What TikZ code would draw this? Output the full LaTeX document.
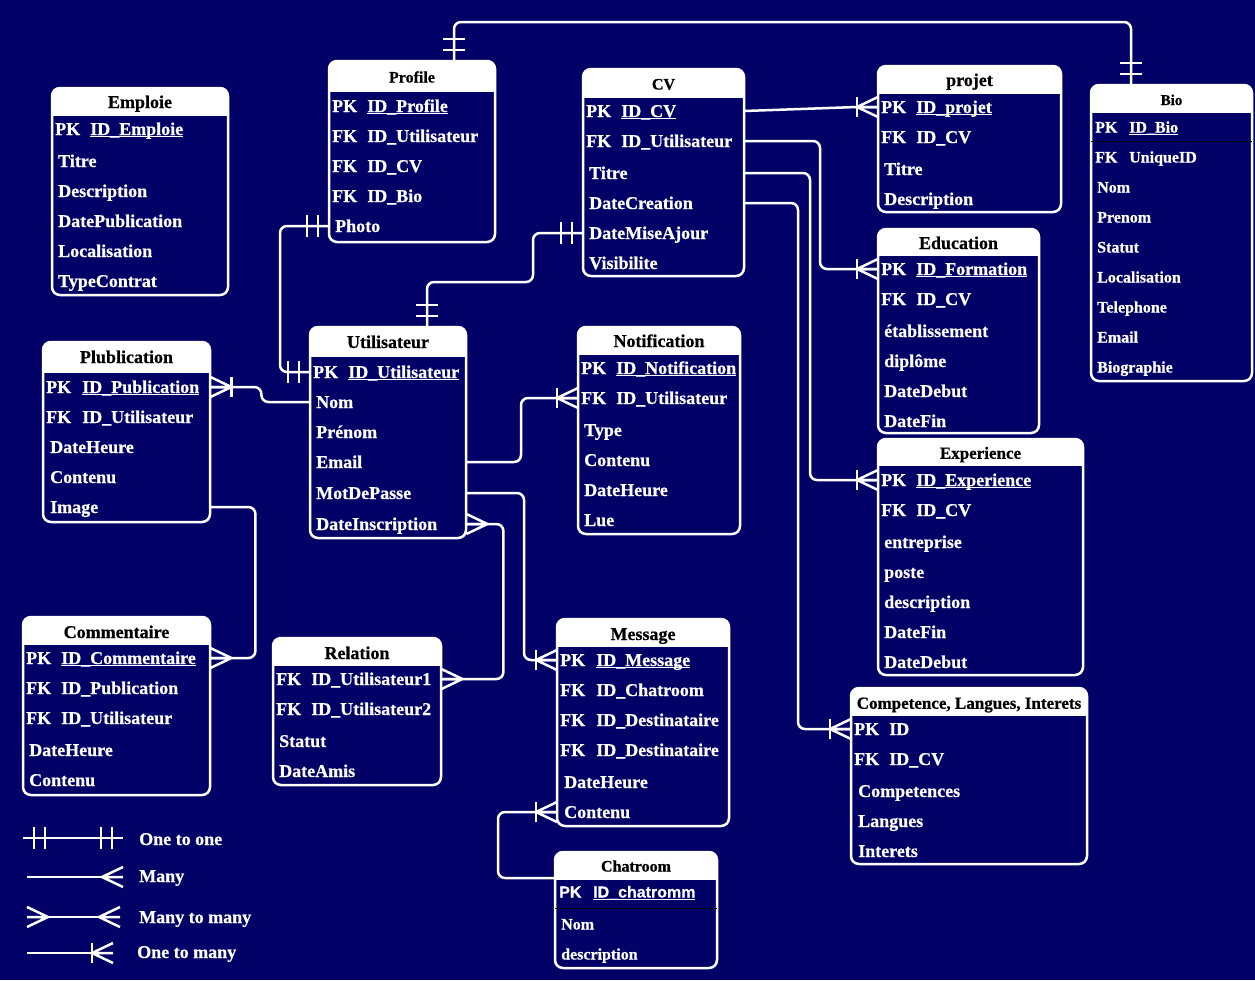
\documentclass[tikz,border=0pt]{standalone}
\usepackage{fontspec}
\setmainfont{Liberation Serif}[BoldFeatures={FakeBold=0.7}]
\newfontfamily\sansb{Liberation Sans}[BoldFeatures={FakeBold=0.7}]
\definecolor{erbg}{RGB}{0,0,102}
\newcommand\pkul[1]{\setbox0\hbox{#1}\rlap{\rule[-2.3pt]{\wd0}{1.3pt}}\box0}
\newcommand\ertable[6]{%
  \node[tblbody, anchor=north west, minimum width={(#4-#2)*1pt}, minimum height={(#5-#3)*1pt}] (#1) at (#2,#3) {};
  \begin{scope}
    \clip[rounded corners=8pt] (#2,#3) rectangle (#4,#5);
    \fill[white] (#2,#3) rectangle (#4,#6);
  \end{scope}
  \draw[tblline] (#2,#3) rectangle (#4,#5);
}
\newcommand\crow[3]{%
  \begin{scope}[shift={(#1)}, rotate=#2]
    \draw[mk] (21,0) -- (0,10) (21,0) -- (0,-10) (21,0) -- (0,0);
    \ifnum#3=1 \draw[mk] (21,10) -- (21,-10);\fi
  \end{scope}}
\newcommand\onebar[2]{%
  \begin{scope}[shift={(#1)}, rotate=#2]
    \draw[mk] (11,11) -- (11,-11) (22,11) -- (22,-11);
  \end{scope}}
\tikzset{
  conn/.style={draw=white, line width=2.5pt, rounded corners=7pt},
  mk/.style={draw=white, line width=2.5pt},
  tblbody/.style={fill=erbg, draw=none, inner sep=0pt, rounded corners=8pt},
  tblline/.style={draw=white, line width=2.5pt, rounded corners=8pt},
  fld/.style={anchor=west, inner sep=0pt, text=white, font=\bfseries\fontsize{18}{20}\selectfont, text height=12pt, text depth=0pt},
  fldb/.style={fld, font=\bfseries\fontsize{16}{18}\selectfont, text height=11pt},
  ttl/.style={inner sep=0pt, text=black, font=\bfseries\fontsize{18}{20}\selectfont, text height=12pt, text depth=0pt},
  ttls/.style={ttl, font=\bfseries\fontsize{16}{18}\selectfont, text height=11pt},
  ttlm/.style={ttl, font=\bfseries\fontsize{17}{19}\selectfont, text height=11.5pt},
}
\begin{document}
\begin{tikzpicture}[x=1pt,y=-1pt]
\useasboundingbox (0,0) rectangle (1255,980);
\fill[erbg] (0,0) rectangle (1255,980);

% ---------- tables ----------
\ertable{emploie}{52}{88}{228}{295}{116}
\node[ttl] (emp-t) at (140,102) {Emploie};
\node[fld] (emp-k1) at (55,129) {PK};
\node[fld] (emp-1) at (90,129) {\pkul{ID\_Emploie}};
\node[fld] (emp-2) at (58,161) {Titre};
\node[fld] (emp-3) at (58,191) {Description};
\node[fld] (emp-4) at (58,221) {DatePublication};
\node[fld] (emp-5) at (58,251) {Localisation};
\node[fld] (emp-6) at (58,281) {TypeContrat};

\ertable{profile}{329}{61}{495}{242}{92}
\node[ttls] (pf-t) at (412,77) {Profile};
\node[fld] (pf-k1) at (332,106) {PK};
\node[fld] (pf-1) at (367,106) {\pkul{ID\_Profile}};
\node[fld] (pf-k2) at (332,136) {FK};
\node[fld] (pf-2) at (367,136) {ID\_Utilisateur};
\node[fld] (pf-k3) at (332,166) {FK};
\node[fld] (pf-3) at (367,166) {ID\_CV};
\node[fld] (pf-k4) at (332,196) {FK};
\node[fld] (pf-4) at (367,196) {ID\_Bio};
\node[fld] (pf-5) at (335,226) {Photo};

\ertable{cv}{583}{69}{744}{276}{98}
\node[ttls] (cv-t) at (663.5,84) {CV};
\node[fld] (cv-k1) at (586,111) {PK};
\node[fld] (cv-1) at (621,111) {\pkul{ID\_CV}};
\node[fld] (cv-k2) at (586,141) {FK};
\node[fld] (cv-2) at (621,141) {ID\_Utilisateur};
\node[fld] (cv-3) at (589,173) {Titre};
\node[fld] (cv-4) at (589,203) {DateCreation};
\node[fld] (cv-5) at (589,233) {DateMiseAjour};
\node[fld] (cv-6) at (589,263) {Visibilite};

\ertable{projet}{878}{66}{1061}{212}{94}
\node[ttl] (pr-t) at (969.5,80) {projet};
\node[fld] (pr-k1) at (881,107) {PK};
\node[fld] (pr-1) at (916,107) {\pkul{ID\_projet}};
\node[fld] (pr-k2) at (881,137) {FK};
\node[fld] (pr-2) at (916,137) {ID\_CV};
\node[fld] (pr-3) at (884,169) {Titre};
\node[fld] (pr-4) at (884,199) {Description};

\ertable{education}{878}{229}{1039}{433}{256}
\node[ttl] (ed-t) at (958.5,243) {Education};
\node[fld] (ed-k1) at (881,269) {PK};
\node[fld] (ed-1) at (916,269) {\pkul{ID\_Formation}};
\node[fld] (ed-k2) at (881,299) {FK};
\node[fld] (ed-2) at (916,299) {ID\_CV};
\node[fld] (ed-3) at (884,331) {établissement};
\node[fld] (ed-4) at (884,361) {diplôme};
\node[fld] (ed-5) at (884,391) {DateDebut};
\node[fld] (ed-6) at (884,421) {DateFin};

\ertable{experience}{878}{439}{1083}{675}{466}
\node[ttlm] (ex-t) at (980.5,453) {Experience};
\node[fld] (ex-k1) at (881,480) {PK};
\node[fld] (ex-1) at (916,480) {\pkul{ID\_Experience}};
\node[fld] (ex-k2) at (881,510) {FK};
\node[fld] (ex-2) at (916,510) {ID\_CV};
\node[fld] (ex-3) at (884,542) {entreprise};
\node[fld] (ex-4) at (884,572) {poste};
\node[fld] (ex-5) at (884,602) {description};
\node[fld] (ex-6) at (884,632) {DateFin};
\node[fld] (ex-7) at (884,662) {DateDebut};

\ertable{competence}{851}{688}{1087}{864}{716}
\node[ttlm] (co-t) at (969,703) {Competence, Langues, Interets};
\node[fld] (co-k1) at (854,729) {PK};
\node[fld] (co-1) at (889,729) {ID};
\node[fld] (co-k2) at (854,759) {FK};
\node[fld] (co-2) at (889,759) {ID\_CV};
\node[fld] (co-3) at (858,791) {Competences};
\node[fld] (co-4) at (858,821) {Langues};
\node[fld] (co-5) at (858,851) {Interets};

\ertable{bio}{1091}{85}{1252}{381}{113}
\node[ttl, font=\bfseries\fontsize{15}{17}\selectfont, text height=10pt] (bio-t) at (1171.5,100) {Bio};
\node[fldb] (bio-k1) at (1095,127) {PK};
\node[fldb] (bio-1) at (1129,127) {\pkul{ID\_Bio}};
\draw[black, line width=1pt] (bio.west |- 0,141) -- (bio.east |- 0,141);
\node[fldb] (bio-k2) at (1095,157) {FK};
\node[fldb] (bio-2) at (1129,157) {UniqueID};
\node[fldb] (bio-3) at (1097,187) {Nom};
\node[fldb] (bio-4) at (1097,217) {Prenom};
\node[fldb] (bio-5) at (1097,247) {Statut};
\node[fldb] (bio-6) at (1097,277) {Localisation};
\node[fldb] (bio-7) at (1097,307) {Telephone};
\node[fldb] (bio-8) at (1097,337) {Email};
\node[fldb] (bio-9) at (1097,367) {Biographie};

\ertable{utilisateur}{310}{327}{466}{538}{357}
\node[ttl] (ut-t) at (388,342) {Utilisateur};
\node[fld] (ut-k1) at (313,372) {PK};
\node[fld] (ut-1) at (348,372) {\pkul{ID\_Utilisateur}};
\node[fld] (ut-2) at (316,402) {Nom};
\node[fld] (ut-3) at (316,432) {Prénom};
\node[fld] (ut-4) at (316,462) {Email};
\node[fld] (ut-5) at (316,493) {MotDePasse};
\node[fld] (ut-6) at (316,524) {DateInscription};

\ertable{notification}{578}{327}{740}{534}{355}
\node[ttl] (no-t) at (659,341) {Notification};
\node[fld] (no-k1) at (581,368) {PK};
\node[fld] (no-1) at (616,368) {\pkul{ID\_Notification}};
\node[fld] (no-k2) at (581,398) {FK};
\node[fld] (no-2) at (616,398) {ID\_Utilisateur};
\node[fld] (no-3) at (584,430) {Type};
\node[fld] (no-4) at (584,460) {Contenu};
\node[fld] (no-5) at (584,490) {DateHeure};
\node[fld] (no-6) at (584,520) {Lue};

\ertable{publication}{43}{342}{210}{522}{373}
\node[ttl] (pb-t) at (126.5,357) {Plublication};
\node[fld] (pb-k1) at (46,387) {PK};
\node[fld] (pb-1) at (82,387) {\pkul{ID\_Publication}};
\node[fld] (pb-k2) at (46,417) {FK};
\node[fld] (pb-2) at (82,417) {ID\_Utilisateur};
\node[fld] (pb-3) at (50,447) {DateHeure};
\node[fld] (pb-4) at (50,477) {Contenu};
\node[fld] (pb-5) at (50,507) {Image};

\ertable{commentaire}{23}{617}{210}{795}{645}
\node[ttl] (cm-t) at (116.5,632) {Commentaire};
\node[fld] (cm-k1) at (26,658) {PK};
\node[fld] (cm-1) at (61,658) {\pkul{ID\_Commentaire}};
\node[fld] (cm-k2) at (26,688) {FK};
\node[fld] (cm-2) at (61,688) {ID\_Publication};
\node[fld] (cm-k3) at (26,718) {FK};
\node[fld] (cm-3) at (61,718) {ID\_Utilisateur};
\node[fld] (cm-4) at (29,750) {DateHeure};
\node[fld] (cm-5) at (29,780) {Contenu};

\ertable{relation}{273}{638}{441}{785}{666}
\node[ttl] (re-t) at (357,653) {Relation};
\node[fld] (re-k1) at (276,679) {FK};
\node[fld] (re-1) at (311,679) {ID\_Utilisateur1};
\node[fld] (re-k2) at (276,709) {FK};
\node[fld] (re-2) at (311,709) {ID\_Utilisateur2};
\node[fld] (re-3) at (279,741) {Statut};
\node[fld] (re-4) at (279,771) {DateAmis};

\ertable{message}{557}{619}{729}{826}{647}
\node[ttl] (me-t) at (643,634) {Message};
\node[fld] (me-k1) at (560,660) {PK};
\node[fld] (me-1) at (596,660) {\pkul{ID\_Message}};
\node[fld] (me-k2) at (560,690) {FK};
\node[fld] (me-2) at (596,690) {ID\_Chatroom};
\node[fld] (me-k3) at (560,720) {FK};
\node[fld] (me-3) at (596,720) {ID\_Destinataire};
\node[fld] (me-k4) at (560,750) {FK};
\node[fld] (me-4) at (596,750) {ID\_Destinataire};
\node[fld] (me-5) at (564,782) {DateHeure};
\node[fld] (me-6) at (564,812) {Contenu};

\ertable{chatroom}{555}{852}{717}{968}{880}
\node[ttls] (ch-t) at (636,866) {Chatroom};
\node[fldb, font=\sansb\bfseries\fontsize{16}{18}\selectfont] (ch-k1) at (559,892) {PK};
\node[fldb, font=\sansb\bfseries\fontsize{16}{18}\selectfont] (ch-1) at (593,892) {\pkul{ID\_chatromm}};
\draw[black, line width=1pt] (chatroom.west |- 0,908) -- (chatroom.east |- 0,908);
\node[fldb] (ch-2) at (561,924) {Nom};
\node[fldb] (ch-3) at (561,954) {description};

% ---------- connectors ----------
\coordinate (topbend) at (0,22);
\coordinate (pf-top) at ([xshift=125pt]profile.north west);
\coordinate (bio-top) at ([xshift=40pt]bio.north west);
\draw[conn] (pf-top) -- (pf-top |- topbend) -- (bio-top |- topbend) -- (bio-top);
\onebar{pf-top}{90}
\onebar{bio-top}{90}

\coordinate (pf-photo) at (profile.west |- pf-5);
\coordinate (ut-pk) at (utilisateur.west |- ut-1);
\draw[conn] (pf-photo) -| ([xshift=-30pt]ut-pk) -- (ut-pk);
\onebar{pf-photo}{180}
\onebar{ut-pk}{180}

\coordinate (cv-maj) at (cv.west |- cv-5);
\coordinate (ut-top) at ([xshift=117pt]utilisateur.north west);
\draw[conn] (cv-maj) -| ([xshift=106pt,yshift=45pt]ut-top) -| (ut-top);
\onebar{cv-maj}{180}
\onebar{ut-top}{90}

\coordinate (cv-pk) at (cv.east |- cv-1);
\coordinate (pr-pk) at (projet.west |- pr-1);
\draw[conn] (cv-pk) -- ([xshift=-21pt]pr-pk) -- (pr-pk);
\crow{pr-pk}{180}{1}

\coordinate (cv-ut) at (cv.east |- cv-2);
\coordinate (ed-pk) at (education.west |- ed-1);
\draw[conn] (cv-ut) -| ([xshift=-58pt]ed-pk) -- (ed-pk);
\crow{ed-pk}{180}{1}

\coordinate (cv-ti) at (cv.east |- cv-3);
\coordinate (ex-pk) at (experience.west |- ex-1);
\draw[conn] (cv-ti) -| ([xshift=-68pt]ex-pk) -- (ex-pk);
\crow{ex-pk}{180}{1}

\coordinate (cv-dc) at (cv.east |- cv-4);
\coordinate (co-pk) at (competence.west |- co-1);
\draw[conn] (cv-dc) -| ([xshift=-53pt]co-pk) -- (co-pk);
\crow{co-pk}{180}{1}

\coordinate (ut-nom) at (utilisateur.west |- ut-2);
\coordinate (pb-pk) at (publication.east |- pb-1);
\draw[conn] (ut-nom) -| ([xshift=51pt]pb-pk) -- (pb-pk);
\crow{pb-pk}{0}{1}

\coordinate (ut-em) at (utilisateur.east |- ut-4);
\coordinate (no-fk) at (notification.west |- no-2);
\draw[conn] (ut-em) -| ([xshift=-57pt]no-fk) -- (no-fk);
\crow{no-fk}{180}{1}

\coordinate (ut-mdp) at (utilisateur.east |- ut-5);
\coordinate (me-pk) at (message.west |- me-1);
\draw[conn] (ut-mdp) -| ([xshift=-33pt]me-pk) -- (me-pk);
\crow{me-pk}{180}{1}

\coordinate (ut-di) at (utilisateur.east |- ut-6);
\coordinate (re-fk) at (relation.east |- re-1);
\draw[conn] (ut-di) -| ([xshift=62pt]re-fk) -- (re-fk);
\crow{ut-di}{0}{0}
\crow{re-fk}{0}{0}

\coordinate (ch-w) at ([yshift=-26pt]chatroom.north west);
\coordinate (me-ct) at (message.west |- me-6);
\draw[conn] (ch-w) -| ([xshift=-59pt]me-ct) -- (me-ct);
\crow{me-ct}{180}{1}

\coordinate (pb-img) at (publication.east |- pb-5);
\coordinate (cm-pk) at (commentaire.east |- cm-1);
\draw[conn] (pb-img) -| ([xshift=45pt]cm-pk) -- (cm-pk);
\crow{cm-pk}{0}{0}

% ---------- legend ----------
\coordinate (lg1a) at (23,838);
\coordinate (lg1b) at (123,838);
\draw[mk] (lg1a) -- (lg1b);
\onebar{lg1a}{0}
\onebar{lg1b}{180}
\node[fld] (lg1t) at (139,839) {One to one};

\coordinate (lg2a) at (27,877);
\coordinate (lg2b) at (123,877);
\draw[mk] (lg2a) -- (lg2b);
\crow{lg2b}{180}{0}
\node[fld] (lg2t) at (139,876) {Many};

\coordinate (lg3a) at (27,917);
\coordinate (lg3b) at (120,917);
\draw[mk] (lg3a) -- (lg3b);
\crow{lg3a}{0}{0}
\crow{lg3b}{180}{0}
\node[fld] (lg3t) at (139,917) {Many to many};

\coordinate (lg4a) at (27,953);
\coordinate (lg4b) at (113,953);
\draw[mk] (lg4a) -- (lg4b);
\crow{lg4b}{180}{1}
\node[fld] (lg4t) at (137,952) {One to many};
\end{tikzpicture}
\end{document}
